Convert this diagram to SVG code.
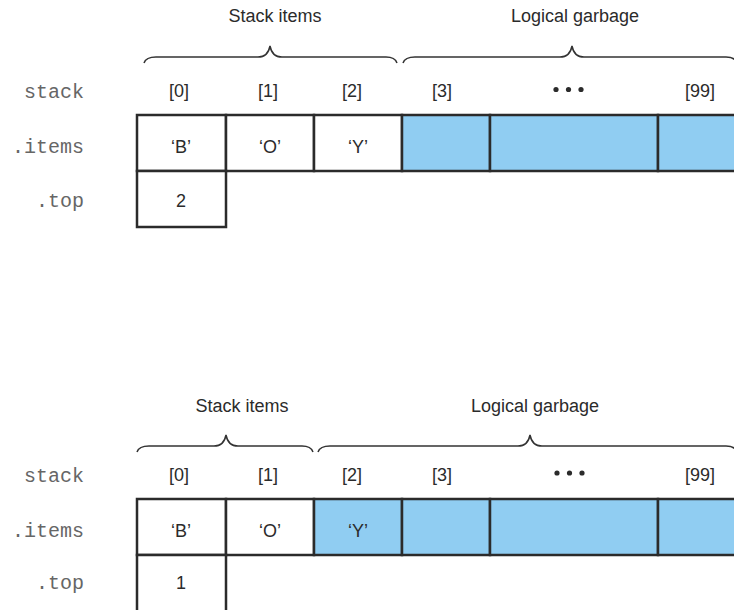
<svg xmlns="http://www.w3.org/2000/svg" width="734" height="610" viewBox="0 0 734 610">
<style>
.cell{fill:#fff;stroke:#2b2b2b;stroke-width:2.5}
.g{fill:#90cdf2;stroke:#2b2b2b;stroke-width:2.5}
.t{font-family:"Liberation Sans",Arial,sans-serif;font-size:18px;fill:#2b2b2b;text-anchor:middle}
.v{font-family:"Liberation Sans",Arial,sans-serif;font-size:18px;fill:#2b2b2b;text-anchor:middle}
.m{font-family:"Liberation Mono","Courier New",monospace;font-size:20px;fill:#666;text-anchor:end}
.br{fill:none;stroke:#333;stroke-width:1.5}
.dot{fill:#2b2b2b}
</style>
<rect width="734" height="610" fill="#fff"/>
<!-- Top diagram -->
<g id="top-labels">
<text class="m" x="84" y="98">stack</text>
<text class="m" x="84" y="153">.items</text>
<text class="m" x="84" y="207">.top</text>
</g>
<g id="top-braces">
<path class="br" d="M144,63 Q146,57 156,57 L258,57 Q268,57 270,46 Q272,57 282,57 L386,57 Q395,57 397,63"/>
<path class="br" d="M403,63 Q405,57 415,57 L560,57 Q570,57 572,46 Q574,57 584,57 L726,57 Q735,57 737,63"/>
<text class="t" x="275" y="22">Stack items</text>
<text class="t" x="575" y="22">Logical garbage</text>
</g>
<g id="top-indices">
<text class="t" x="179" y="97">[0]</text>
<text class="t" x="268" y="97">[1]</text>
<text class="t" x="352" y="97">[2]</text>
<text class="t" x="442" y="97">[3]</text>
<circle class="dot" cx="556" cy="89.5" r="2.6"/>
<circle class="dot" cx="568.5" cy="89.5" r="2.6"/>
<circle class="dot" cx="581" cy="89.5" r="2.6"/>
<text class="t" x="700" y="97">[99]</text>
</g>
<g id="top-items">
<rect class="cell" x="137" y="115" width="89" height="56"/>
<rect class="cell" x="226" y="115" width="88" height="56"/>
<rect class="cell" x="314" y="115" width="88" height="56"/>
<rect class="g" x="402" y="115" width="88" height="56"/>
<rect class="g" x="490" y="115" width="168" height="56"/>
<rect class="g" x="658" y="115" width="82" height="56"/>
<text class="v" x="181" y="153">‘B’</text>
<text class="v" x="270" y="153">‘O’</text>
<text class="v" x="358" y="153">‘Y’</text>
</g>
<g id="top-top">
<rect class="cell" x="137" y="171" width="89" height="56"/>
<text class="v" x="181" y="207">2</text>
</g>
<!-- Bottom diagram -->
<g id="bot-labels">
<text class="m" x="84" y="482">stack</text>
<text class="m" x="84" y="537">.items</text>
<text class="m" x="84" y="589">.top</text>
</g>
<g id="bot-braces">
<path class="br" d="M137,452 Q139,446 149,446 L214,446 Q224,446 226,435 Q228,446 238,446 L302,446 Q311,446 313,452"/>
<path class="br" d="M318,452 Q320,446 330,446 L518,446 Q528,446 530,435 Q532,446 542,446 L726,446 Q735,446 737,452"/>
<text class="t" x="242" y="412">Stack items</text>
<text class="t" x="535" y="412">Logical garbage</text>
</g>
<g id="bot-indices">
<text class="t" x="179" y="481">[0]</text>
<text class="t" x="268" y="481">[1]</text>
<text class="t" x="352" y="481">[2]</text>
<text class="t" x="442" y="481">[3]</text>
<circle class="dot" cx="557" cy="473" r="2.6"/>
<circle class="dot" cx="569.5" cy="473" r="2.6"/>
<circle class="dot" cx="582" cy="473" r="2.6"/>
<text class="t" x="700" y="481">[99]</text>
</g>
<g id="bot-items">
<rect class="cell" x="137" y="499" width="89" height="56"/>
<rect class="cell" x="226" y="499" width="88" height="56"/>
<rect class="g" x="314" y="499" width="88" height="56"/>
<rect class="g" x="402" y="499" width="88" height="56"/>
<rect class="g" x="490" y="499" width="168" height="56"/>
<rect class="g" x="658" y="499" width="82" height="56"/>
<text class="v" x="181" y="537">‘B’</text>
<text class="v" x="270" y="537">‘O’</text>
<text class="v" x="358" y="537">‘Y’</text>
</g>
<g id="bot-top">
<rect class="cell" x="137" y="555" width="89" height="60"/>
<text class="v" x="181" y="589">1</text>
</g>
</svg>
